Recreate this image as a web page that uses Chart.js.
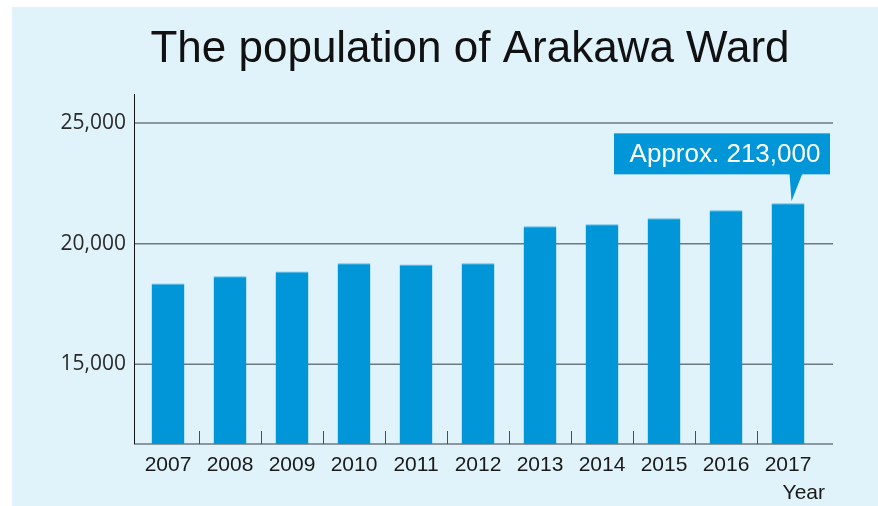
<!DOCTYPE html>
<html>
<head>
<meta charset="utf-8">
<script src="https://cdn.jsdelivr.net/npm/chart.js@4.4.0/dist/chart.umd.min.js"></script>
<style>
  html, body { margin: 0; padding: 0; background: #fff; }
  #panel { position: absolute; left: 12px; top: 7px; width: 866px; height: 499px; background: #e0f2fa; }
  #chart { position: absolute; left: 0; top: 0; }
</style>
</head>
<body>
<div id="panel"></div>
<canvas id="chart" width="878" height="506"></canvas>
<script>
// ── DATA ─────────────────────────────────────────────────────
const years      = ["2007", "2008", "2009", "2010", "2011", "2012", "2013", "2014", "2015", "2016", "2017"];
const population = [18350, 18650, 18850, 19190, 19140, 19190, 20720, 20800, 21050, 21380, 21670];
const yTicks     = [15000, 20000, 25000];
const titleText   = "The population of Arakawa Ward";
const calloutText = "Approx. 213,000";
const axisTitle   = "Year";

// ── STYLE ────────────────────────────────────────────────────
const BAR_COLOR  = "#0096d7";
const GRID_COLOR = "#6f7a80";
const SANS = '"Liberation Sans", Arial, Helvetica, sans-serif';

Chart.defaults.font.family = SANS;

// axis lines, ticks between bars, title, callout
const framePlugin = {
  id: "frame",
  beforeDatasetsDraw(chart) {
    const { ctx, chartArea: a, scales: { x, y } } = chart;
    const left = a.left - 3, right = a.right + 14;
    ctx.save();
    // horizontal grid lines
    ctx.strokeStyle = GRID_COLOR;
    ctx.lineWidth = 1.5;
    yTicks.forEach(v => {
      const py = y.getPixelForValue(v);
      ctx.beginPath(); ctx.moveTo(left, py); ctx.lineTo(right, py); ctx.stroke();
    });
    // bottom axis
    ctx.beginPath(); ctx.moveTo(left, a.bottom); ctx.lineTo(right, a.bottom); ctx.stroke();
    // small ticks between categories
    ctx.strokeStyle = "#4a4f52";
    ctx.lineWidth = 1;
    for (let i = 0; i < years.length - 1; i++) {
      const px = Math.round((x.getPixelForValue(i) + x.getPixelForValue(i + 1)) / 2) + 0.5;
      ctx.beginPath(); ctx.moveTo(px, a.bottom - 13); ctx.lineTo(px, a.bottom); ctx.stroke();
    }
    // y axis
    ctx.strokeStyle = "#111";
    ctx.beginPath(); ctx.moveTo(left + 0.5, a.top); ctx.lineTo(left + 0.5, a.bottom); ctx.stroke();
    ctx.restore();
  },
  afterDatasetsDraw(chart) {
    const { ctx } = chart;
    const meta = chart.getDatasetMeta(0);
    const bar = meta.data[meta.data.length - 1];
    const boxR = bar.x + 42, boxL = boxR - 216;
    const boxB = bar.y - 29, boxT = boxB - 41;
    ctx.save();
    ctx.fillStyle = BAR_COLOR;
    ctx.fillRect(boxL, boxT, boxR - boxL, boxB - boxT);
    ctx.beginPath();
    ctx.moveTo(bar.x + 1.5, boxB - 1);
    ctx.lineTo(bar.x + 14.5, boxB - 1);
    ctx.lineTo(bar.x + 3.5, bar.y - 2);
    ctx.closePath();
    ctx.fill();
    ctx.fillStyle = "#fff";
    ctx.font = "26px " + SANS;
    ctx.textAlign = "center";
    ctx.textBaseline = "middle";
    ctx.fillText(calloutText, (boxL + boxR) / 2 + 3, (boxT + boxB) / 2 + 1);
    ctx.restore();
  },
  afterDraw(chart) {
    const { ctx, chartArea: a } = chart;
    ctx.save();
    ctx.fillStyle = "#111";
    ctx.font = "44px " + SANS;
    ctx.textAlign = "center";
    ctx.textBaseline = "alphabetic";
    ctx.fillText(titleText, 470, 62);
    ctx.fillStyle = "#1a1a1a";
    ctx.font = "21px " + SANS;
    ctx.textAlign = "right";
    ctx.textBaseline = "middle";
    ctx.fillText(axisTitle, a.right + 6, a.bottom + 49);
    ctx.restore();
  },
};

new Chart(document.getElementById("chart"), {
  type: "bar",
  data: {
    labels: years,
    datasets: [{
      data: population,
      backgroundColor: BAR_COLOR,
      borderColor: "#62bde6",
      borderWidth: { top: 1, left: 0, right: 0, bottom: 0 },
      borderSkipped: "start",
      barPercentage: 0.53,
      categoryPercentage: 1.0,
    }],
  },
  options: {
    responsive: false,
    animation: false,
    layout: { padding: { left: 0, right: 59, top: 94, bottom: 0 } },
    plugins: { legend: { display: false }, tooltip: { enabled: false }, title: { display: false } },
    scales: {
      x: {
        grid: { display: false, drawTicks: false },
        border: { display: false },
        ticks: { color: "#1a1a1a", font: { size: 21 }, padding: 9, maxRotation: 0, autoSkip: false },
        afterFit(scale) { scale.height = 62; },
      },
      y: {
        min: 11700,
        max: 26200,
        grid: { display: false, drawTicks: false },
        border: { display: false },
        ticks: {
          color: "#2a2a2a",
          font: { family: '"Open Sans", sans-serif', size: 21 },
          padding: 11,
          callback: v => v.toLocaleString("en-US"),
        },
        afterBuildTicks(scale) { scale.ticks = yTicks.map(v => ({ value: v })); },
        afterFit(scale) { scale.width = 137; },
      },
    },
  },
  plugins: [framePlugin],
});
</script>
</body>
</html>
